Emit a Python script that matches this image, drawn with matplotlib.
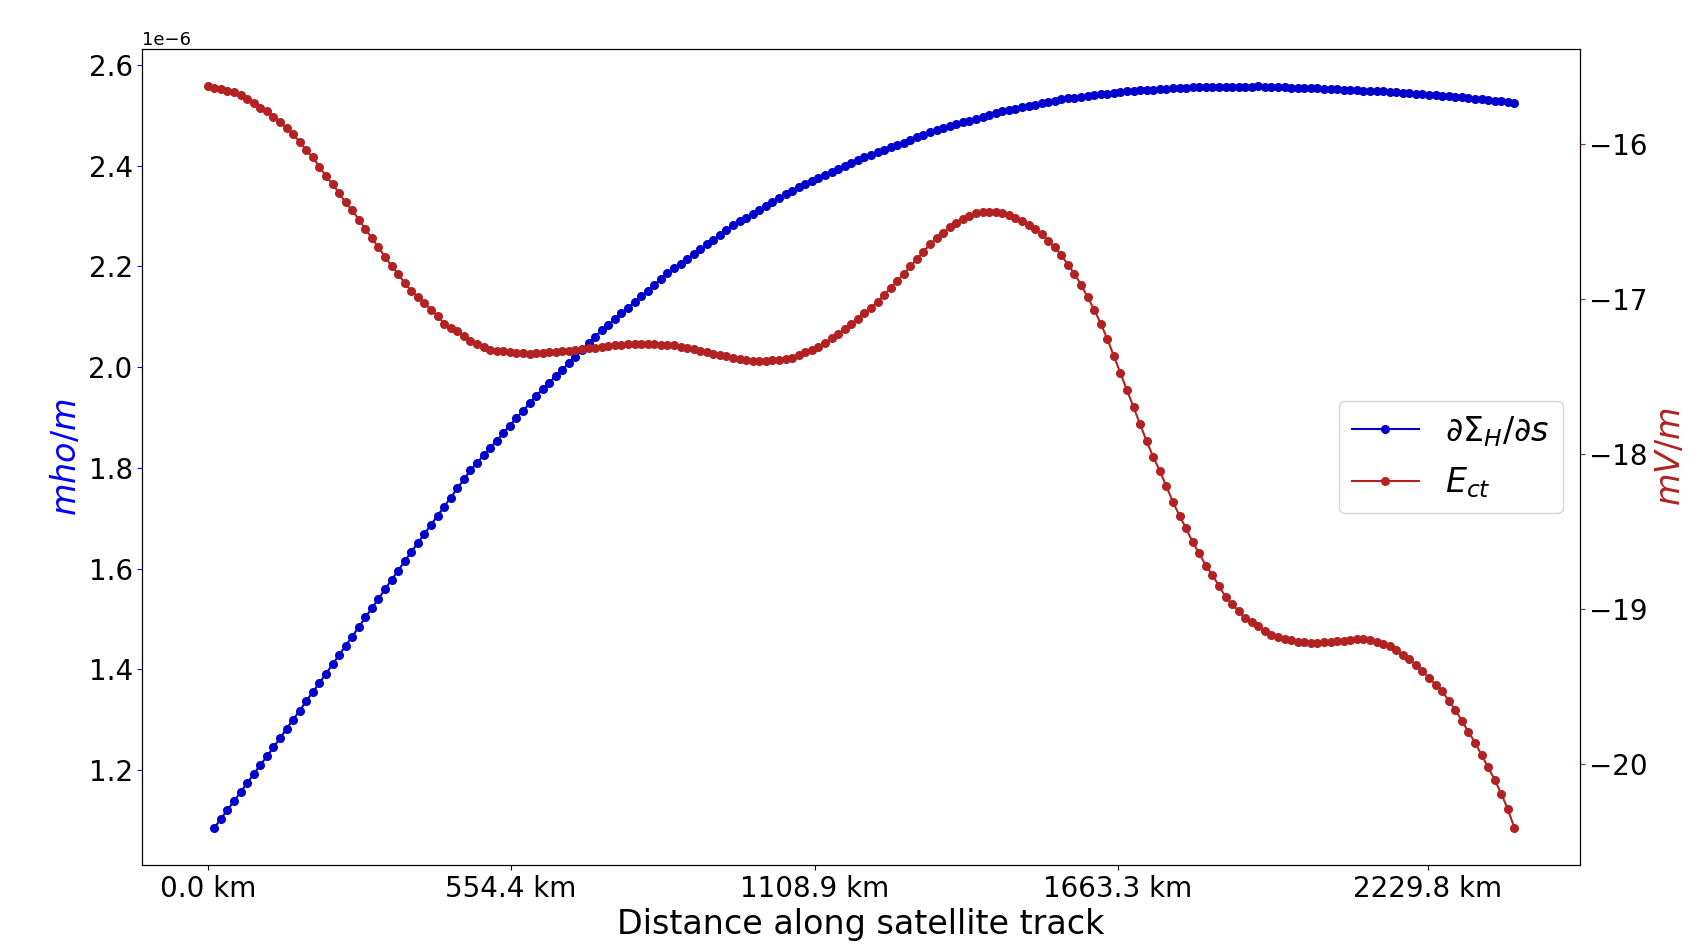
import numpy as np
import matplotlib
matplotlib.use("Agg")
import matplotlib.pyplot as plt

# sample spacing along the track (km); E_ct has one sample per step,
# the conductance gradient starts one step later
track_step_km = 12.0

# E_ct, mV/m
e_ct = [
    -15.63, -15.64, -15.65, -15.66, -15.67, -15.69, -15.71, -15.74, -15.77, -15.79,
    -15.83, -15.86, -15.90, -15.94, -15.99, -16.04, -16.09, -16.15, -16.21, -16.26,
    -16.32, -16.38, -16.43, -16.49, -16.55, -16.61, -16.67, -16.73, -16.79, -16.84,
    -16.90, -16.95, -16.99, -17.03, -17.07, -17.11, -17.16, -17.19, -17.21, -17.24,
    -17.27, -17.29, -17.31, -17.33, -17.334, -17.34, -17.343, -17.35, -17.353, -17.355,
    -17.352, -17.35, -17.346, -17.343, -17.34, -17.336, -17.33, -17.325, -17.32, -17.315,
    -17.31, -17.306, -17.30, -17.298, -17.295, -17.292, -17.29, -17.292, -17.295, -17.297,
    -17.298, -17.30, -17.31, -17.318, -17.327, -17.336, -17.345, -17.354, -17.363, -17.372,
    -17.38, -17.39, -17.397, -17.40, -17.402, -17.402, -17.397, -17.392, -17.387, -17.38,
    -17.365, -17.346, -17.328, -17.31, -17.283, -17.254, -17.226, -17.197, -17.166, -17.13,
    -17.094, -17.059, -17.021, -16.976, -16.93, -16.885, -16.84, -16.792, -16.745, -16.697,
    -16.65, -16.61, -16.575, -16.54, -16.51, -16.485, -16.465, -16.45, -16.442, -16.44,
    -16.442, -16.45, -16.462, -16.478, -16.50, -16.525, -16.55, -16.585, -16.625, -16.67,
    -16.72, -16.78, -16.84, -16.91, -16.99, -17.07, -17.16, -17.26, -17.37, -17.48,
    -17.59, -17.70, -17.81, -17.92, -18.02, -18.11, -18.21, -18.31, -18.40, -18.48,
    -18.57, -18.64, -18.72, -18.78, -18.85, -18.92, -18.97, -19.01, -19.06, -19.08,
    -19.11, -19.14, -19.17, -19.18, -19.19, -19.20, -19.21, -19.215, -19.22, -19.217,
    -19.215, -19.212, -19.208, -19.203, -19.198, -19.194, -19.19, -19.20, -19.215, -19.227,
    -19.24, -19.266, -19.294, -19.323, -19.357, -19.40, -19.443, -19.486, -19.53, -19.59,
    -19.65, -19.72, -19.79, -19.86, -19.94, -20.02, -20.10, -20.19, -20.29, -20.41,
]

# dSigma_H/ds, in units of 1e-6 mho/m
dsigma_ds = [
    1.085, 1.103, 1.121, 1.138, 1.156, 1.174, 1.192, 1.210, 1.227, 1.245,
    1.263, 1.282, 1.300, 1.318, 1.337, 1.355, 1.373, 1.391, 1.410, 1.428,
    1.447, 1.465, 1.484, 1.503, 1.522, 1.540, 1.559, 1.578, 1.596, 1.615,
    1.633, 1.651, 1.669, 1.687, 1.705, 1.723, 1.741, 1.759, 1.777, 1.795,
    1.810, 1.825, 1.839, 1.854, 1.869, 1.884, 1.899, 1.913, 1.928, 1.943,
    1.956, 1.969, 1.982, 1.995, 2.008, 2.021, 2.034, 2.047, 2.060, 2.073,
    2.084, 2.096, 2.107, 2.118, 2.130, 2.141, 2.152, 2.163, 2.175, 2.186,
    2.196, 2.205, 2.215, 2.224, 2.234, 2.244, 2.253, 2.263, 2.272, 2.282,
    2.290, 2.297, 2.305, 2.312, 2.320, 2.328, 2.335, 2.343, 2.350, 2.358,
    2.364, 2.370, 2.376, 2.382, 2.388, 2.393, 2.399, 2.405, 2.411, 2.417,
    2.422, 2.427, 2.432, 2.437, 2.442, 2.446, 2.451, 2.456, 2.461, 2.466,
    2.470, 2.474, 2.478, 2.482, 2.486, 2.489, 2.493, 2.497, 2.501, 2.505,
    2.508, 2.510, 2.513, 2.516, 2.519, 2.521, 2.524, 2.527, 2.529, 2.532,
    2.534, 2.535, 2.537, 2.538, 2.540, 2.542, 2.543, 2.545, 2.546, 2.548,
    2.549, 2.550, 2.550, 2.551, 2.552, 2.553, 2.554, 2.554, 2.555, 2.556,
    2.556, 2.556, 2.556, 2.557, 2.557, 2.557, 2.557, 2.557, 2.557, 2.558,
    2.557, 2.557, 2.556, 2.556, 2.555, 2.555, 2.555, 2.554, 2.554, 2.553,
    2.552, 2.552, 2.551, 2.551, 2.550, 2.549, 2.549, 2.548, 2.548, 2.547,
    2.546, 2.545, 2.544, 2.543, 2.542, 2.541, 2.540, 2.539, 2.538, 2.537,
    2.536, 2.534, 2.533, 2.532, 2.530, 2.529, 2.528, 2.526, 2.525,
]

tick_km = [0.0, 554.4, 1108.9, 1663.3, 2229.8]
tick_labels = [f"{t:.1f} km" for t in tick_km]

distance_km = track_step_km * np.arange(len(e_ct))
grad = np.array(dsigma_ds) * 1e-6

fig = plt.figure(figsize=(17.06, 9.46), dpi=100)
ax = fig.add_axes([0.0835, 0.0856, 0.8425, 0.8626])
ax2 = ax.twinx()

l1, = ax.plot(distance_km[1:], grad, color="mediumblue", marker="o", ms=5.5, lw=1.5,
              label=r"$\partial\Sigma_H/\partial s$")
l2, = ax2.plot(distance_km, e_ct, color="firebrick", marker="o", ms=5.5, lw=1.5,
               label=r"$E_{ct}$")

ax.set_xticks(tick_km)
ax.set_xticklabels(tick_labels)
ax.tick_params(axis="x", labelsize=20)
ax.tick_params(axis="y", labelsize=20, color="blue", labelcolor="black")
ax2.tick_params(axis="y", labelsize=20, color="firebrick", labelcolor="black")
ax.yaxis.get_offset_text().set_fontsize(13)

ax.set_xlabel("Distance along satellite track", fontsize=24)
ax.set_ylabel(r"$mho/m$", fontsize=24, color="blue")
ax2.set_ylabel(r"$mV/m$", fontsize=24, color="firebrick")

ax.legend(handles=[l1, l2], loc="center right", fontsize=24)

fig.savefig("out.png", dpi=100)
